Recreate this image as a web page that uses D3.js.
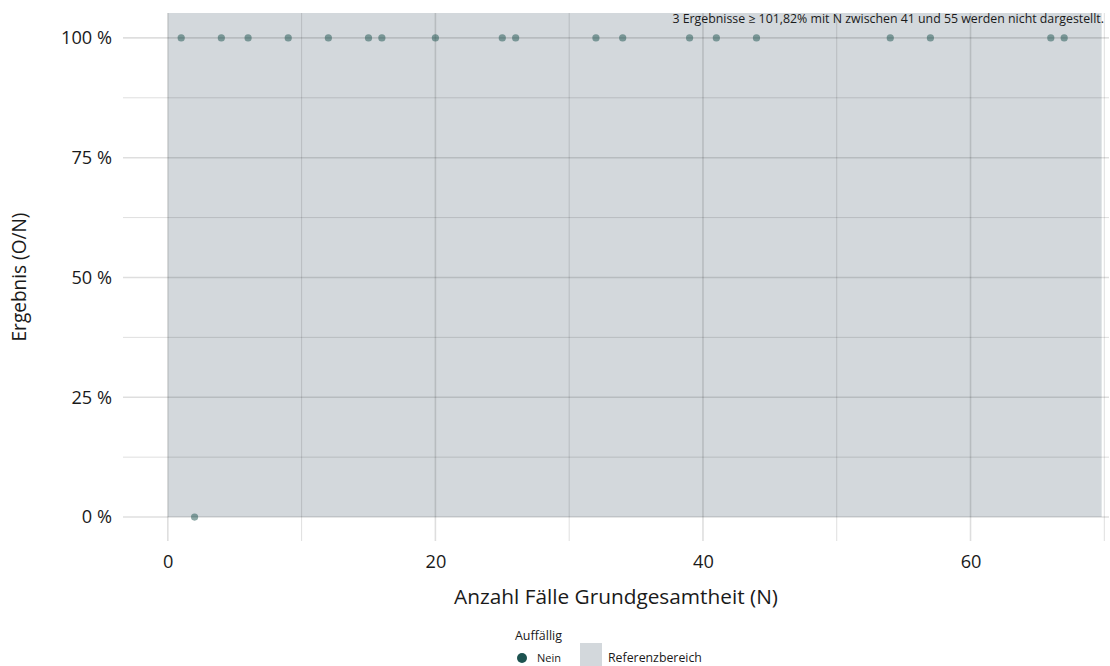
<!DOCTYPE html>
<html><head><meta charset="utf-8">
<script src="https://cdn.jsdelivr.net/npm/d3@7"></script>
<style>body{margin:0;background:#fff}svg{display:block;font-family:"Open Sans",sans-serif}</style>
</head><body><svg id="c" width="1110" height="666"></svg>
<script>
const nValues = [1,4,6,9,12,15,16,20,25,26,32,34,39,41,44,54,57,66,67,2];
const results = [100,100,100,100,100,100,100,100,100,100,100,100,100,100,100,100,100,100,100,0];
const xTicks = [0,20,40,60];
const xMinor = [10,30,50,70];
const yTicks = [0,25,50,75,100];
const yMinor = [12.5,37.5,62.5,87.5];
const band = {x0:0, x1:69.8, y0:0, y1:105.2};
const note = "3 Ergebnisse ≥ 101,82% mit N zwischen 41 und 55 werden nicht dargestellt.";

const svg = d3.select("#c");
const L=123,R=1109,T=13,B=541;
const x = d3.scaleLinear().domain([-3.35,70.35]).range([L,R]);
const y = d3.scaleLinear().domain([-5,105.2]).range([B,T]);

function fit(sel, w){ // scale font so text width equals w
  sel.attr("font-size",10);
  const l = sel.node().getComputedTextLength();
  sel.attr("font-size",10*w/l);
  return sel;
}

svg.append("rect").attr("x",x(band.x0)).attr("y",y(band.y1))
  .attr("width",x(band.x1)-x(band.x0)).attr("height",y(band.y0)-y(band.y1)).attr("fill","#d3d8dc");

const g = svg.append("g");
const grid = "rgba(0,0,0,0.13)";
xMinor.forEach(v=>g.append("line").attr("x1",x(v)).attr("x2",x(v)).attr("y1",T).attr("y2",B).attr("stroke",grid).attr("stroke-width",1));
xTicks.forEach(v=>g.append("line").attr("x1",x(v)).attr("x2",x(v)).attr("y1",T).attr("y2",B).attr("stroke",grid).attr("stroke-width",1.6));
yMinor.forEach(v=>g.append("line").attr("x1",L).attr("x2",R).attr("y1",y(v)).attr("y2",y(v)).attr("stroke",grid).attr("stroke-width",1));
yTicks.forEach(v=>g.append("line").attr("x1",L).attr("x2",R).attr("y1",y(v)).attr("y2",y(v)).attr("stroke",grid).attr("stroke-width",1.6));

svg.append("g").selectAll("circle").data(nValues).join("circle")
  .attr("cx",(d)=>x(d)).attr("cy",(d,i)=>y(results[i])).attr("r",3.6)
  .attr("fill","#1d5350").attr("fill-opacity",0.5);

const ax = svg.append("g").attr("transform",`translate(0,${B})`)
  .call(d3.axisBottom(x).tickValues(xTicks).tickSize(0).tickPadding(14));
ax.select(".domain").remove();
ax.selectAll("text").attr("fill","#1a1a1a").attr("font-family","'Open Sans',sans-serif");

const ay = svg.append("g").attr("transform",`translate(${L},0)`)
  .call(d3.axisLeft(y).tickValues(yTicks).tickFormat(d=>d+" %").tickSize(0).tickPadding(11));
ay.select(".domain").remove();
ay.selectAll("text").attr("fill","#1a1a1a").attr("font-family","'Open Sans',sans-serif");
const t100 = ay.selectAll("text").filter(d=>d===100);
fit(t100,51);
const fs = t100.attr("font-size");
ay.selectAll("text").attr("font-size",fs);
ax.selectAll("text").attr("font-size",fs);

fit(svg.append("text").attr("x",(L+R)/2).attr("y",604).attr("text-anchor","middle")
  .attr("fill","#1a1a1a").text("Anzahl Fälle Grundgesamtheit (N)"),324);
fit(svg.append("text").attr("transform",`translate(26,${(T+B)/2}) rotate(-90)`).attr("text-anchor","middle")
  .attr("fill","#1a1a1a").text("Ergebnis (O/N)"),129);

fit(svg.append("text").attr("x",1104).attr("y",23).attr("text-anchor","end")
  .attr("fill","#1a1a1a").text(note),432);

const lg = svg.append("g");
fit(lg.append("text").attr("x",515).attr("y",640).attr("fill","#1a1a1a").text("Auffällig"),47);
lg.append("circle").attr("cx",522).attr("cy",658).attr("r",5).attr("fill","#1d5350");
lg.append("text").attr("x",537).attr("y",662).attr("font-size",11).attr("fill","#1a1a1a").text("Nein");
lg.append("rect").attr("x",580).attr("y",643).attr("width",22).attr("height",23).attr("fill","#d3d8dc");
fit(lg.append("text").attr("x",608).attr("y",662).attr("fill","#1a1a1a").text("Referenzbereich"),94);
</script></body></html>
